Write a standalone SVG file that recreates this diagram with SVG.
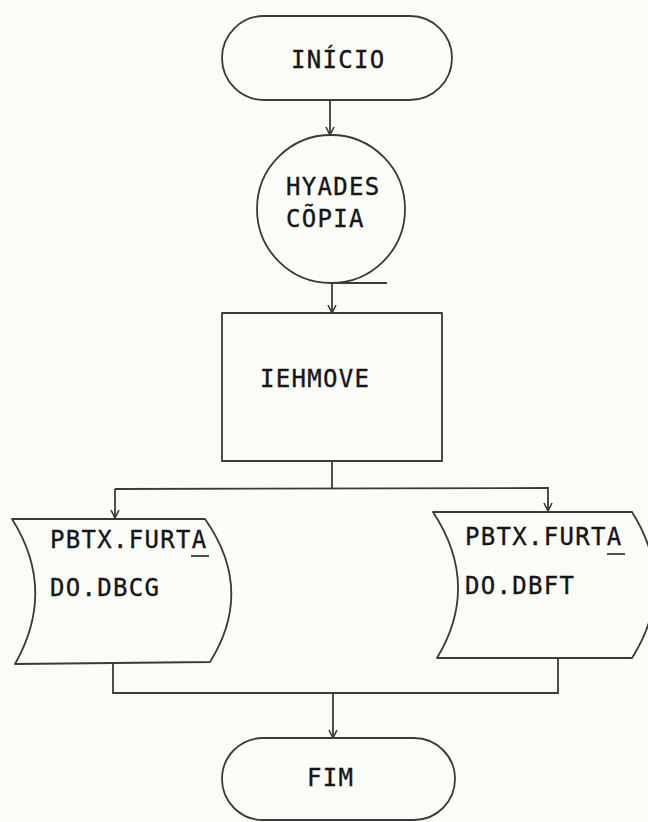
<svg xmlns="http://www.w3.org/2000/svg" width="648" height="822" viewBox="0 0 648 822">
<defs>
<style>
.shape{fill:none;stroke:#3a3a3a;stroke-width:1.8;stroke-linejoin:round}
.conn{fill:none;stroke:#3a3a3a;stroke-width:1.8}
.t{font-family:"DejaVu Sans Mono","Liberation Mono",monospace;font-size:24px;fill:#151515;stroke:#151515;stroke-width:0.35px;letter-spacing:1.3px}
</style>
<marker id="arr" viewBox="0 0 10 10" refX="10" refY="5" markerWidth="10" markerHeight="10" markerUnits="userSpaceOnUse" orient="auto">
<path d="M2,1 L10,5 L2,9" fill="none" stroke="#3a3a3a" stroke-width="1.6"/>
</marker>
</defs>
<rect width="648" height="822" fill="#fbfbf8"/>
<g id="connectors">
<line class="conn" x1="330" y1="100" x2="330" y2="135" marker-end="url(#arr)"/>
<line class="conn" x1="331" y1="283" x2="387" y2="283"/>
<line class="conn" x1="332" y1="283" x2="332" y2="313" marker-end="url(#arr)"/>
<polyline class="conn" points="332,461 332,488"/>
<polyline class="conn" points="115,489 548,488 548,511" marker-end="url(#arr)"/>
<line class="conn" x1="115" y1="489" x2="115" y2="518" marker-end="url(#arr)"/>
<polyline class="conn" points="113,664 113,693 558,693 558,658"/>
<line class="conn" x1="333" y1="693" x2="333" y2="738" marker-end="url(#arr)"/>
</g>
<g id="inicio">
<rect class="shape" x="222" y="16" width="230" height="84" rx="42"/>
<text class="t" x="291" y="68">INÍCIO</text>
</g>
<g id="hyades">
<circle class="shape" cx="331" cy="209" r="74"/>
<text class="t" x="286" y="195">HYADES</text>
<text class="t" x="286" y="227">CÕPIA</text>
</g>
<g id="iehmove">
<rect class="shape" x="222" y="313" width="220" height="148"/>
<text class="t" x="260" y="387">IEHMOVE</text>
</g>
<g id="doc-dbcg">
<path class="shape" d="M12,519 L205,519 Q255,590 210,662 L15,664 Q57,590 12,519 Z"/>
<text class="t" x="50" y="548">PBTX.FURTA</text>
<line class="conn" x1="191" y1="556" x2="209" y2="556"/>
<text class="t" x="50" y="596">DO.DBCG</text>
</g>
<g id="doc-dbft">
<path class="shape" d="M433,512 L632,512 Q678,585 632,658 L437,658 Q481,585 433,512 Z"/>
<text class="t" x="465" y="545">PBTX.FURTA</text>
<line class="conn" x1="607" y1="554" x2="625" y2="554"/>
<text class="t" x="465" y="594">DO.DBFT</text>
</g>
<g id="fim">
<rect class="shape" x="222" y="738" width="233" height="82" rx="41"/>
<text class="t" x="307" y="786">FIM</text>
</g>
</svg>
